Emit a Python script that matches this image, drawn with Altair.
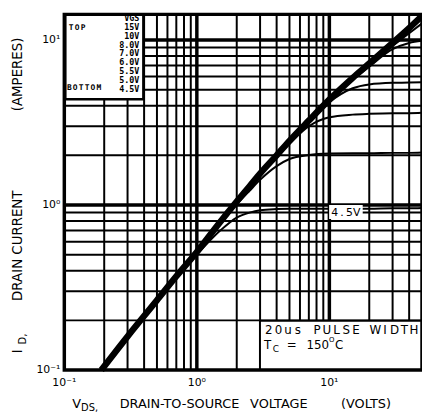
import altair as alt
import pandas as pd

# ---------------- data ----------------
vds = [0.19, 0.3, 0.5, 0.7, 1.0, 1.5, 2.0, 2.5, 3.0, 4.0, 5.0, 7.0, 10, 15, 20, 30, 40, 50]

id_15v = [0.1, 0.16, 0.265, 0.37, 0.52, 0.79, 1.05, 1.3, 1.55, 2.0, 2.45, 3.25, 4.35, 5.9, 7.2, 9.6, 11.8, 14.0]
id_10v = [0.1, 0.16, 0.265, 0.37, 0.52, 0.79, 1.05, 1.3, 1.55, 2.0, 2.45, 3.25, 4.35, 5.9, 7.15, 9.45, 11.5, 13.5]
id_8v = [0.1, 0.16, 0.265, 0.37, 0.52, 0.79, 1.05, 1.3, 1.55, 2.0, 2.45, 3.25, 4.35, 5.85, 7.05, 9.2, 11.0, 12.6]
id_7v = [0.1, 0.16, 0.265, 0.37, 0.52, 0.79, 1.05, 1.3, 1.55, 2.0, 2.45, 3.25, 4.3, 5.75, 6.9, 8.8, 9.6, 9.9]
id_6v = [0.1, 0.16, 0.265, 0.37, 0.52, 0.79, 1.05, 1.3, 1.55, 2.0, 2.45, 3.2, 4.2, 5.1, 5.38, 5.5, 5.52, 5.55]
id_55v = [0.1, 0.16, 0.265, 0.37, 0.52, 0.79, 1.05, 1.3, 1.53, 1.97, 2.35, 3.0, 3.4, 3.53, 3.57, 3.6, 3.6, 3.62]
id_5v = [0.1, 0.16, 0.265, 0.37, 0.52, 0.78, 1.01, 1.22, 1.42, 1.72, 1.9, 2.01, 2.05, 2.06, 2.06, 2.07, 2.07, 2.08]
id_45v = [0.1, 0.16, 0.26, 0.36, 0.5, 0.7, 0.84, 0.9, 0.93, 0.945, 0.95, 0.95, 0.95, 0.95, 0.95, 0.955, 0.955, 0.96]

bundle_names = ["15V"]
series_names = ["15V", "10V", "8.0V", "7.0V", "6.0V", "5.5V", "5.0V", "4.5V"]
series_vals = [id_15v, id_10v, id_8v, id_7v, id_6v, id_55v, id_5v, id_45v]

legend_lines = ["VGS", "15V", "10V", "8.0V", "7.0V", "6.0V", "5.5V", "5.0V", "4.5V"]

x_minor = [0.2, 0.3, 0.4, 0.5, 0.6, 0.7, 0.8, 0.9, 2, 3, 4, 5, 6, 7, 8, 9, 20, 30, 40]
x_major = [1, 10]
y_minor = [0.2, 0.3, 0.4, 0.5, 0.6, 0.7, 0.8, 0.9, 2, 3, 4, 5, 6, 7, 8, 9]
y_major = [1, 10]

x_tick_vals = [0.1, 1, 10]
x_tick_text = ["10\u207b\u00b9", "10\u2070", "10\u00b9"]
y_tick_vals = [0.1, 1, 10]
y_tick_text = ["10\u207b\u00b9", "10\u2070", "10\u00b9"]

# ---------------- build tables ----------------
rows = []
for name, vals in zip(series_names, series_vals):
    for v, i in zip(vds, vals):
        rows.append({"vgs": name, "vds": v, "id": i})
df = pd.DataFrame(rows)
df_bundle = df[df["vgs"].isin(bundle_names)]
df_rest = df[~df["vgs"].isin(bundle_names)]

W, H = 362, 360
FONT = "DejaVu Sans"
MONO = "DejaVu Sans Mono"
xs = alt.Scale(type="log", domain=[0.1, 50], nice=False)
ys = alt.Scale(type="log", domain=[0.1, 14.3], nice=False)
one = pd.DataFrame({"k": [0]})


def vrules(vals, sw):
    return alt.Chart(pd.DataFrame({"v": vals})).mark_rule(color="black", strokeWidth=sw).encode(
        x=alt.X("v:Q", scale=xs, axis=None), y=alt.value(0), y2=alt.value(H))


def hrules(vals, sw):
    return alt.Chart(pd.DataFrame({"v": vals})).mark_rule(color="black", strokeWidth=sw).encode(
        y=alt.Y("v:Q", scale=ys, axis=None), x=alt.value(0), x2=alt.value(W))


def box(x1, y1, x2, y2, sw=2):
    return alt.Chart(one).mark_rect(fill="white", stroke="black", strokeWidth=sw).encode(
        x=alt.value(x1), x2=alt.value(x2), y=alt.value(y1), y2=alt.value(y2))


def txt(s, x, y, size=13, align="left", baseline="alphabetic", angle=0, font=FONT, weight="normal", lh=None):
    kw = dict(align=align, baseline=baseline, fontSize=size, font=font, fontWeight=weight, color="black")
    if angle:
        kw["angle"] = angle
    if lh:
        kw["lineHeight"] = lh
    return alt.Chart(one).mark_text(**kw).encode(x=alt.value(x), y=alt.value(y), text=alt.value(s))


def spaced(s, x, y, adv, size=12, font=FONT, weight="normal"):
    """letter-spaced text: one glyph per slot of width adv, starting at x"""
    out = []
    for k, ch in enumerate(s):
        if ch != " ":
            out.append(txt(ch, x + adv * (k + 0.5), y, size=size, align="center", font=font, weight=weight))
    return out


layers = [
    vrules(x_minor, 2), vrules(x_major, 3.5),
    hrules(y_minor, 2), hrules(y_major, 3.5),
    box(198, 310, W, H, 2),
    box(1, 0, 80, 86, 2.5),
    alt.Chart(df_rest).mark_line(color="black", strokeWidth=2, interpolate="monotone").encode(
        x=alt.X("vds:Q", scale=xs, axis=None), y=alt.Y("id:Q", scale=ys, axis=None), detail="vgs:N"),
    alt.Chart(df_bundle).mark_line(color="black", strokeWidth=6.5, interpolate="monotone").encode(
        x=alt.X("vds:Q", scale=xs, axis=None), y=alt.Y("id:Q", scale=ys, axis=None), detail="vgs:N"),
    alt.Chart(one).mark_rect(fill="white").encode(
        x=alt.value(268), x2=alt.value(302), y=alt.value(193), y2=alt.value(207)),
    *spaced("4.5V", 270, 204, 7.4, size=11),
    alt.Chart(one).mark_rect(filled=False, stroke="black", strokeWidth=3.5).encode(
        x=alt.value(0), x2=alt.value(W), y=alt.value(0), y2=alt.value(H)),
    # tick labels
    alt.Chart(pd.DataFrame({"v": x_tick_vals, "t": x_tick_text})).mark_text(
        fontSize=11, font=FONT, baseline="middle", color="black").encode(
        x=alt.X("v:Q", scale=xs, axis=None), y=alt.value(H + 13), text="t:N"),
    alt.Chart(pd.DataFrame({"v": y_tick_vals, "t": y_tick_text})).mark_text(
        fontSize=11, font=FONT, baseline="middle", align="right", color="black").encode(
        y=alt.Y("v:Q", scale=ys, axis=None), x=alt.value(-4), text="t:N"),
    # legend box text
    txt(legend_lines, 76, 0, size=8.5, align="right", baseline="top", font=MONO, weight="bold", lh=8.9),
    *spaced("TOP", 4, 16, 6, size=8, font=MONO, weight="bold"),
    *spaced("BOTTOM", 2, 77, 6, size=8, font=MONO, weight="bold"),
    # condition box text
    *spaced("20us PULSE WIDTH", 202, 324, 9.8, size=12),
    txt("T", 202, 339, size=12),
    txt("C", 211, 342, size=9),
    txt("=", 225, 339, size=12),
    txt("150", 245, 339, size=12),
    txt("O", 268, 332, size=7),
    txt("C", 274, 339, size=12),
    # x title
    txt("V", 8, 398, size=13),
    txt("DS,", 17, 401, size=10),
    txt("DRAIN-TO-SOURCE", 56, 398, size=13),
    txt("VOLTAGE", 188, 398, size=13),
    txt("(VOLTS)", 280, 398, size=13),
    # y title
    txt("I", -43, 343, size=13.5, angle=270),
    txt("D,", -39, 334, size=10, angle=270),
    txt("DRAIN CURRENT", -43, 290, size=13.5, angle=270),
    txt("(AMPERES)", -43, 98, size=13.5, angle=270),
]

chart = alt.layer(*layers).properties(
    width=W, height=H,
    autosize=alt.AutoSizeParams(type="none"),
    padding={"left": 57, "top": 4, "right": 0, "bottom": 40},
).configure_view(strokeWidth=0)

chart.save("out.html", embed_options={"renderer": "svg", "actions": False})
